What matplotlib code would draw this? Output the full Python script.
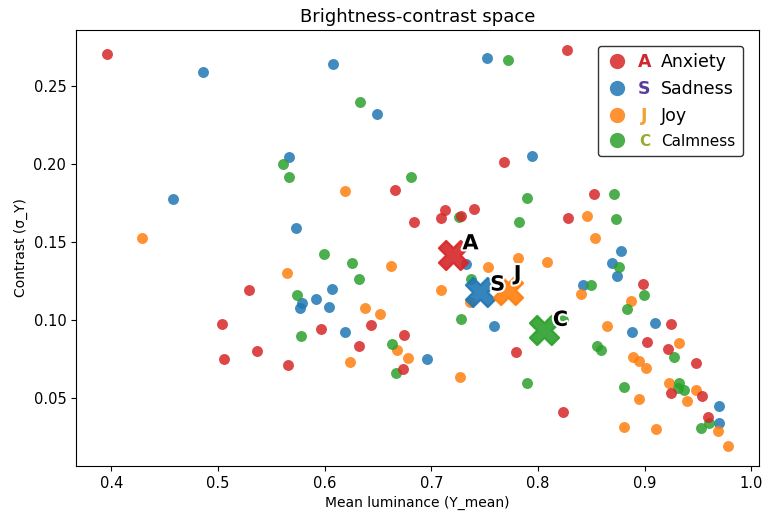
import matplotlib
matplotlib.use("Agg")
import matplotlib.pyplot as plt
import matplotlib.patheffects as pe
from matplotlib.lines import Line2D

# emotion categories
names = ["Anxiety", "Sadness", "Joy", "Calmness"]
letters = ["A", "S", "J", "C"]
point_colors = ["#d62728", "#1f77b4", "#ff7f0e", "#2ca02c"]
letter_colors = ["#d0282e", "#5a3c9c", "#f5a030", "#98ac34"]

anx_x = [0.396, 0.827, 0.666, 0.768, 0.684, 0.713, 0.709, 0.728, 0.740, 0.828, 0.852,
         0.529, 0.504, 0.506, 0.537, 0.566, 0.597, 0.643, 0.674, 0.632, 0.673, 0.779,
         0.823, 0.898, 0.925, 0.902, 0.922, 0.948, 0.925, 0.954, 0.959]
anx_y = [0.2705, 0.273, 0.1833, 0.2013, 0.1628, 0.1705, 0.1654, 0.1667, 0.1712, 0.1654, 0.1808,
         0.1192, 0.0974, 0.075, 0.0801, 0.0712, 0.0942, 0.0968, 0.0904, 0.0833, 0.0686, 0.0795,
         0.041, 0.1231, 0.0974, 0.0859, 0.0814, 0.0724, 0.0532, 0.0513, 0.0378]

sad_x = [0.486, 0.608, 0.752, 0.649, 0.567, 0.794, 0.458, 0.573, 0.607, 0.592, 0.604,
         0.579, 0.577, 0.619, 0.732, 0.759, 0.696, 0.842, 0.878, 0.869, 0.874, 0.910,
         0.888, 0.970, 0.970]
sad_y = [0.259, 0.2641, 0.2679, 0.232, 0.2045, 0.2051, 0.1776, 0.159, 0.1199, 0.1135, 0.1083,
         0.1109, 0.1077, 0.0923, 0.1359, 0.0962, 0.075, 0.1224, 0.1442, 0.1365, 0.1282, 0.0981,
         0.0923, 0.0449, 0.034]

joy_x = [0.429, 0.619, 0.565, 0.662, 0.638, 0.652, 0.624, 0.668, 0.678, 0.727, 0.709,
         0.753, 0.781, 0.808, 0.736, 0.846, 0.853, 0.840, 0.887, 0.865, 0.932, 0.889,
         0.895, 0.901, 0.923, 0.948, 0.940, 0.895, 0.881, 0.911, 0.969, 0.978]
joy_y = [0.1526, 0.1827, 0.1301, 0.1346, 0.1077, 0.1038, 0.0731, 0.0808, 0.0756, 0.0635, 0.1192,
         0.134, 0.1397, 0.1372, 0.1115, 0.1667, 0.1526, 0.1167, 0.1122, 0.0962, 0.0853, 0.0763,
         0.0737, 0.0692, 0.0596, 0.0551, 0.0481, 0.0494, 0.0314, 0.0301, 0.0288, 0.0192]

calm_x = [0.772, 0.633, 0.561, 0.567, 0.681, 0.790, 0.782, 0.726, 0.599, 0.626, 0.632,
          0.574, 0.578, 0.663, 0.667, 0.728, 0.737, 0.790, 0.855, 0.859, 0.850, 0.823,
          0.871, 0.873, 0.876, 0.899, 0.883, 0.927, 0.881, 0.932, 0.937, 0.931, 0.953, 0.960]
calm_y = [0.2667, 0.2397, 0.2, 0.1917, 0.1917, 0.1782, 0.1628, 0.166, 0.1423, 0.1365, 0.1263,
          0.116, 0.0897, 0.0846, 0.066, 0.1006, 0.1263, 0.0596, 0.0833, 0.0808, 0.1224, 0.1,
          0.1808, 0.1647, 0.134, 0.116, 0.1071, 0.0763, 0.0571, 0.0596, 0.0551, 0.0564, 0.0308, 0.034]

# category centres
centre_x = [0.720, 0.746, 0.772, 0.806]
centre_y = [0.1417, 0.118, 0.1192, 0.0936]

xs = [anx_x, sad_x, joy_x, calm_x]
ys = [anx_y, sad_y, joy_y, calm_y]

fig = plt.figure(figsize=(7.66, 5.15), dpi=100)
ax = fig.add_axes([0.0992, 0.0951, 0.8917, 0.8466])

# draw order: sadness, joy, calmness, anxiety
for i in [1, 2, 3, 0]:
    ax.scatter(xs[i], ys[i], s=62, color=point_colors[i], alpha=0.85, linewidths=0, zorder=2)

label_off = [(7, 4), (7, 1), (4, 7), (6, 3)]
for i in range(4):
    ax.scatter([centre_x[i]], [centre_y[i]], s=440, marker="X", color=point_colors[i],
               edgecolors=point_colors[i], linewidths=1.6, alpha=0.9, zorder=4)
    ax.annotate(letters[i], (centre_x[i], centre_y[i]), xytext=label_off[i],
                textcoords="offset points", ha="left", va="baseline",
                fontsize=15, fontweight="bold", color="black", zorder=5,
                path_effects=[pe.withStroke(linewidth=3, foreground="white")])

ax.set_title("Brightness-contrast space", fontsize=13)
ax.set_xlabel("Mean luminance (Y_mean)", fontsize=10)
ax.set_ylabel("Contrast (σ_Y)", fontsize=10)
ax.tick_params(labelsize=10.5)
ax.set_xticks([0.4, 0.5, 0.6, 0.7, 0.8, 0.9, 1.0])
ax.set_yticks([0.05, 0.10, 0.15, 0.20, 0.25])

handles = [Line2D([], [], marker="o", ls="", color=c, alpha=0.85, markersize=11,
                  markeredgewidth=0) for c in point_colors]
leg = ax.legend(handles, names, loc="upper right", fontsize=12.5, handlelength=1.3,
                handletextpad=1.9, borderpad=0.45, labelspacing=0.5, borderaxespad=0.9,
                framealpha=1, edgecolor="0.2", fancybox=True)
leg.get_frame().set_linewidth(1.0)
leg.set_zorder(6)
texts = leg.get_texts()
texts[3].set_fontsize(11)

# coloured initials between the marker and the name
fig.canvas.draw()
renderer = fig.canvas.get_renderer()
inv = fig.transFigure.inverted()
for i, t in enumerate(texts):
    bb = t.get_window_extent(renderer)
    fx, fy = inv.transform((bb.x0 - 17, (bb.y0 + bb.y1) / 2))
    fig.text(fx, fy, letters[i], ha="center", va="center", fontweight="bold",
             fontsize=t.get_fontsize(), color=letter_colors[i], zorder=7)

fig.savefig("out.png", dpi=100)
